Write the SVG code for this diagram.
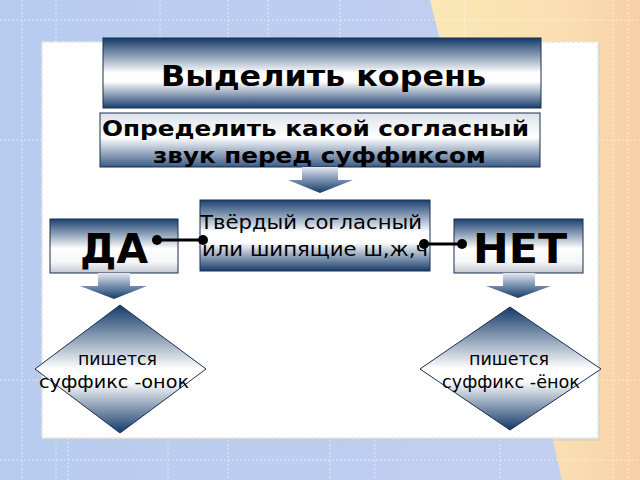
<svg xmlns="http://www.w3.org/2000/svg" width="640" height="480" viewBox="0 0 640 480">
<defs>
<linearGradient id="gBg" x1="0" y1="0" x2="1" y2="0">
<stop offset="0" stop-color="#b7ccef"/><stop offset="1" stop-color="#c4cff0"/>
</linearGradient>
<linearGradient id="gPeach" x1="0" y1="0" x2="1" y2="0">
<stop offset="0" stop-color="#fbe8b6"/><stop offset="0.7" stop-color="#f9ddb0"/><stop offset="1" stop-color="#f7cfa6"/>
</linearGradient>
<linearGradient id="gTitle" x1="0" y1="0" x2="0" y2="1">
<stop offset="0" stop-color="#143a6a"/><stop offset="0.5" stop-color="#ffffff"/><stop offset="0.62" stop-color="#ffffff"/><stop offset="1" stop-color="#173d6c"/>
</linearGradient>
<linearGradient id="gSecond" x1="0" y1="0" x2="0" y2="1">
<stop offset="0" stop-color="#dde2ea"/><stop offset="0.45" stop-color="#ffffff"/><stop offset="1" stop-color="#3a5b86"/>
</linearGradient>
<linearGradient id="gMid" x1="0" y1="0" x2="0" y2="1">
<stop offset="0" stop-color="#1a4070"/><stop offset="0.45" stop-color="#ffffff"/><stop offset="0.6" stop-color="#ffffff"/><stop offset="1" stop-color="#173d6c"/>
</linearGradient>
<linearGradient id="gYN" x1="0" y1="0" x2="0" y2="1">
<stop offset="0" stop-color="#1a4070"/><stop offset="0.55" stop-color="#ffffff"/><stop offset="0.8" stop-color="#f4f5f7"/><stop offset="1" stop-color="#c2c7d0"/>
</linearGradient>
<linearGradient id="gArrow" x1="0" y1="0" x2="0" y2="1">
<stop offset="0" stop-color="#e6eaf0"/><stop offset="0.4" stop-color="#8aa0bd"/><stop offset="1" stop-color="#163a68"/>
</linearGradient>
<linearGradient id="gDia" x1="0" y1="0" x2="0" y2="1">
<stop offset="0" stop-color="#143a6a"/><stop offset="0.5" stop-color="#ffffff"/><stop offset="0.6" stop-color="#ffffff"/><stop offset="1" stop-color="#143a6a"/>
</linearGradient>
</defs>
<style>
.box{stroke:#1b2f4c;stroke-width:1}
.arrow{fill:url(#gArrow);stroke:none}
.grid{stroke:#ffffff;stroke-opacity:0.55;stroke-width:1;stroke-dasharray:2 2}
.t{font-family:"DejaVu Sans",Verdana,sans-serif;fill:#000}
.b{font-weight:bold}
.con{stroke:#000;stroke-width:3}
.dot{fill:#000}
</style>
<rect x="0" y="0" width="640" height="480" fill="url(#gBg)"/>
<polygon points="430,0 640,0 640,480 562,480 548,420 440,40" fill="url(#gPeach)"/>
<g id="grid">
<line class="grid" x1="22" y1="0" x2="22" y2="480"/>
<line class="grid" x1="56" y1="0" x2="56" y2="480"/>
<line class="grid" x1="68" y1="430" x2="68" y2="480"/>
<line class="grid" x1="160" y1="0" x2="160" y2="40"/>
<line class="grid" x1="228" y1="0" x2="228" y2="40"/>
<line class="grid" x1="268" y1="0" x2="268" y2="40"/>
<line class="grid" x1="340" y1="0" x2="340" y2="40"/>
<line class="grid" x1="168" y1="440" x2="168" y2="480"/>
<line class="grid" x1="228" y1="440" x2="228" y2="480"/>
<line class="grid" x1="330" y1="440" x2="330" y2="480"/>
<line class="grid" x1="375" y1="440" x2="375" y2="480"/>
<line class="grid" x1="465" y1="0" x2="465" y2="40"/>
<line class="grid" x1="500" y1="440" x2="500" y2="480"/>
<line class="grid" x1="613" y1="0" x2="613" y2="480"/>
<line class="grid" x1="628" y1="0" x2="628" y2="480"/>
<line class="grid" x1="0" y1="20" x2="640" y2="20"/>
<line class="grid" x1="0" y1="140" x2="42" y2="140"/>
<line class="grid" x1="598" y1="140" x2="640" y2="140"/>
<line class="grid" x1="0" y1="380" x2="42" y2="380"/>
<line class="grid" x1="598" y1="380" x2="640" y2="380"/>
<line class="grid" x1="0" y1="460" x2="640" y2="460"/>
</g>
<rect x="44" y="44" width="556" height="397" fill="#c8ccd4" opacity="0.5"/>
<rect x="42" y="42" width="556" height="396" fill="#ffffff" stroke="#e6e6e6" stroke-width="2" stroke-dasharray="3 2"/>
<g id="title">
<rect class="box" x="103" y="38" width="438" height="70" fill="url(#gTitle)"/>
<text class="t b" x="161" y="86" font-size="29" textLength="325" lengthAdjust="spacingAndGlyphs">Выделить корень</text>
</g>
<g id="determine">
<rect class="box" x="100" y="113" width="440" height="54" fill="url(#gSecond)"/>
<text class="t b" x="102" y="136" font-size="21" textLength="427" lengthAdjust="spacingAndGlyphs">Определить какой согласный</text>
<text class="t b" x="153" y="163" font-size="21" textLength="333" lengthAdjust="spacingAndGlyphs">звук перед суффиксом</text>
</g>
<g id="arrow-main">
<polygon class="arrow" points="302,167 338,167 338,180 353,180 320,193 288,180 302,180"/>
</g>
<g id="condition">
<rect class="box" x="200" y="200" width="230" height="71" fill="url(#gMid)"/>
<text class="t" x="200" y="229" font-size="19" textLength="222" lengthAdjust="spacingAndGlyphs">Твёрдый согласный</text>
<text class="t" x="202" y="256" font-size="19" textLength="226" lengthAdjust="spacingAndGlyphs">или шипящие ш,ж,ч</text>
</g>
<g id="yes">
<rect class="box" x="50" y="219" width="128" height="54" fill="url(#gYN)"/>
<text class="t b" x="80" y="263" font-size="41" textLength="68" lengthAdjust="spacingAndGlyphs">ДА</text>
<polygon class="arrow" points="98,273 130,273 130,286 147,286 114,299 80,286 98,286"/>
</g>
<g id="no">
<rect class="box" x="454" y="219" width="129" height="54" fill="url(#gYN)"/>
<text class="t b" x="473" y="263" font-size="41" textLength="94" lengthAdjust="spacingAndGlyphs">НЕТ</text>
<polygon class="arrow" points="503,273 535,273 535,286 551,286 518,298 486,286 503,286"/>
</g>
<g id="result-yes">
<polygon class="box" points="120,305 206,369 120,433 35,369" fill="url(#gDia)"/>
<text class="t" x="78" y="365" font-size="18" textLength="79" lengthAdjust="spacingAndGlyphs">пишется</text>
<text class="t" x="39" y="388" font-size="18" textLength="150" lengthAdjust="spacingAndGlyphs">суффикс -онок</text>
</g>
<g id="result-no">
<polygon class="box" points="510,307 601,369 510,430 420,369" fill="url(#gDia)"/>
<text class="t" x="469" y="365" font-size="18" textLength="80" lengthAdjust="spacingAndGlyphs">пишется</text>
<text class="t" x="442" y="388" font-size="18" textLength="138" lengthAdjust="spacingAndGlyphs">суффикс -ёнок</text>
</g>
<g id="connectors">
<line class="con" x1="157" y1="240" x2="203" y2="240"/>
<circle class="dot" cx="157" cy="240" r="5"/>
<circle class="dot" cx="203" cy="240" r="5"/>
<line class="con" x1="424" y1="244" x2="462" y2="244"/>
<circle class="dot" cx="424" cy="244" r="5"/>
<circle class="dot" cx="462" cy="244" r="5"/>
</g>
</svg>
